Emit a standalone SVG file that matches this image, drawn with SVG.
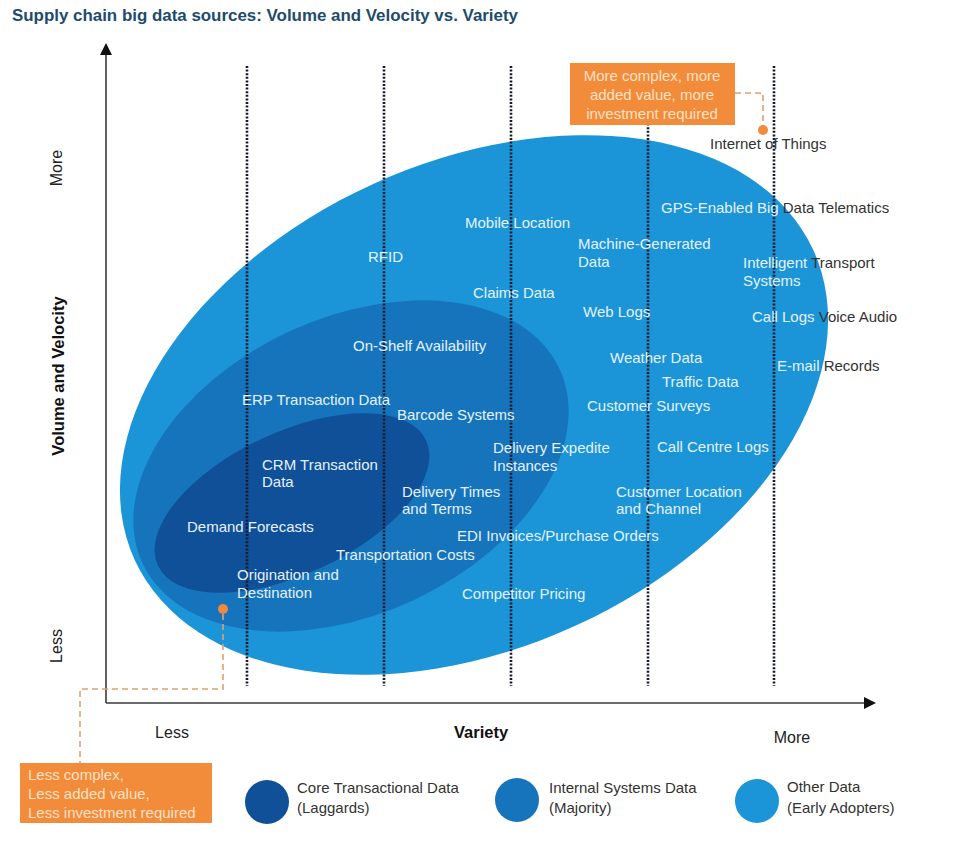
<svg xmlns="http://www.w3.org/2000/svg" width="960" height="845" viewBox="0 0 960 845">
<defs>
<style>
text{font-family:"Liberation Sans",Arial,sans-serif;}
.w{fill:#e4f2fb;font-size:15px;}
.d{fill:#333333;}
.ax{fill:#222;font-size:16px;}
.axb{fill:#111;font-size:16.5px;font-weight:bold;}
.lg{fill:#333;font-size:15px;}
.ob{fill:#fde2c6;font-size:15px;}
.dot{stroke:#141a2c;stroke-width:2.6;stroke-dasharray:2 1.6;fill:none;}
.axis{stroke:#3a3a3a;stroke-width:1.6;fill:none;}
.dash{stroke:#e0a070;stroke-width:1.6;stroke-dasharray:6 4;fill:none;}
.c1{fill:#0f5098;}
.c2{fill:#1674bc;}
.c3{fill:#1b95d7;}
</style>
</defs>
<rect width="960" height="845" fill="#ffffff"/>
<text x="12" y="21" font-size="16" font-weight="bold" fill="#1d4c6c" textLength="506" lengthAdjust="spacingAndGlyphs">Supply chain big data sources: Volume and Velocity vs. Variety</text>

<g id="ellipses">
<ellipse id="other" class="c3" cx="474" cy="405" rx="373" ry="243" transform="rotate(-24.5 474 405)"/>
<ellipse id="internal" class="c2" cx="351" cy="466" rx="230" ry="148" transform="rotate(-25 351 466)"/>
<ellipse id="core" class="c1" cx="292" cy="503" rx="148" ry="71" transform="rotate(-25 292 503)"/>
</g>

<g id="gridlines">
<line class="dot" x1="247" y1="66" x2="247" y2="686"/>
<line class="dot" x1="384" y1="66" x2="384" y2="686"/>
<line class="dot" x1="511" y1="66" x2="511" y2="686"/>
<line class="dot" x1="648" y1="66" x2="648" y2="686"/>
<line class="dot" x1="774" y1="66" x2="774" y2="686"/>
</g>

<g id="axes">
<line class="axis" x1="106" y1="52" x2="106" y2="703"/>
<line class="axis" x1="106" y1="703" x2="866" y2="703"/>
<polygon points="106,43 100,55 112,55" fill="#111"/>
<polygon points="876,703 864,697 864,709" fill="#111"/>
<text class="ax" transform="translate(62 168) rotate(-90)" text-anchor="middle">More</text>
<text class="ax" transform="translate(62 646) rotate(-90)" text-anchor="middle">Less</text>
<text class="axb" transform="translate(64 376) rotate(-90)" text-anchor="middle">Volume and Velocity</text>
<text class="ax" x="172" y="738" text-anchor="middle">Less</text>
<text class="axb" x="481" y="738" text-anchor="middle">Variety</text>
<text class="ax" x="792" y="743" text-anchor="middle">More</text>
</g>

<g id="labels">
<text class="w" x="465" y="228">Mobile Location</text>
<text class="w" x="368" y="262">RFID</text>
<text class="w" x="473" y="298">Claims Data</text>
<text class="w" x="353" y="351">On-Shelf Availability</text>
<text class="w" x="578" y="249">Machine-Generated</text>
<text class="w" x="578" y="267">Data</text>
<text class="w" x="661" y="213">GPS-Enabled Big<tspan class="d"> Data Telematics</tspan></text>
<text class="w" x="743" y="268">Intelligent<tspan class="d"> Transport</tspan></text>
<text class="w" x="743" y="286">Systems</text>
<text class="w" x="583" y="317">Web Logs</text>
<text class="w" x="752" y="322">Call Logs<tspan class="d"> Voice Audio</tspan></text>
<text class="w" x="610" y="363">Weather Data</text>
<text class="w" x="777" y="371">E-mail<tspan class="d"> Records</tspan></text>
<text class="w" x="662" y="387">Traffic Data</text>
<text class="w" x="587" y="411">Customer Surveys</text>
<text class="w" x="242" y="405">ERP Transaction Data</text>
<text class="w" x="397" y="420">Barcode Systems</text>
<text class="w" x="493" y="453">Delivery Expedite</text>
<text class="w" x="493" y="471">Instances</text>
<text class="w" x="657" y="452">Call Centre Logs</text>
<text class="w" x="262" y="470">CRM Transaction</text>
<text class="w" x="262" y="487">Data</text>
<text class="w" x="402" y="497">Delivery Times</text>
<text class="w" x="402" y="514">and Terms</text>
<text class="w" x="616" y="497">Customer Location</text>
<text class="w" x="616" y="514">and Channel</text>
<text class="w" x="187" y="532">Demand Forecasts</text>
<text class="w" x="457" y="541">EDI Invoices/Purchase Orders</text>
<text class="w" x="336" y="560">Transportation Costs</text>
<text class="w" x="237" y="580">Origination and</text>
<text class="w" x="237" y="598">Destination</text>
<text class="w" x="462" y="599">Competitor Pricing</text>
<text class="d" x="710" y="149" font-size="15">Internet of Things</text>
</g>

<g id="connectors">
<path class="dash" d="M735,93 H763 V125"/>
<path class="dash" d="M223,614 V689 H80 V763"/>
<circle cx="763" cy="130" r="5" fill="#f08a3c"/>
<circle cx="223" cy="609" r="5" fill="#f08a3c"/>
</g>

<g id="callout-more">
<rect x="570" y="63" width="165" height="62" fill="#f28b3a"/>
<text class="ob" x="652" y="81" text-anchor="middle">More complex, more</text>
<text class="ob" x="652" y="100" text-anchor="middle">added value, more</text>
<text class="ob" x="652" y="119" text-anchor="middle">investment required</text>
</g>

<g id="callout-less">
<rect x="20" y="763" width="192" height="60" fill="#f28b3a"/>
<text class="ob" x="28" y="780">Less complex,</text>
<text class="ob" x="28" y="799">Less added value,</text>
<text class="ob" x="28" y="818">Less investment required</text>
</g>

<g id="legend">
<g id="legend-core">
<circle class="c1" cx="267" cy="802" r="22"/>
<text class="lg" x="297" y="793">Core Transactional Data</text>
<text class="lg" x="297" y="813">(Laggards)</text>
</g>
<g id="legend-internal">
<circle class="c2" cx="517" cy="800" r="22"/>
<text class="lg" x="549" y="793">Internal Systems Data</text>
<text class="lg" x="549" y="813">(Majority)</text>
</g>
<g id="legend-other">
<circle class="c3" cx="757" cy="801" r="22"/>
<text class="lg" x="787" y="792">Other Data</text>
<text class="lg" x="787" y="813">(Early Adopters)</text>
</g>
</g>
</svg>
